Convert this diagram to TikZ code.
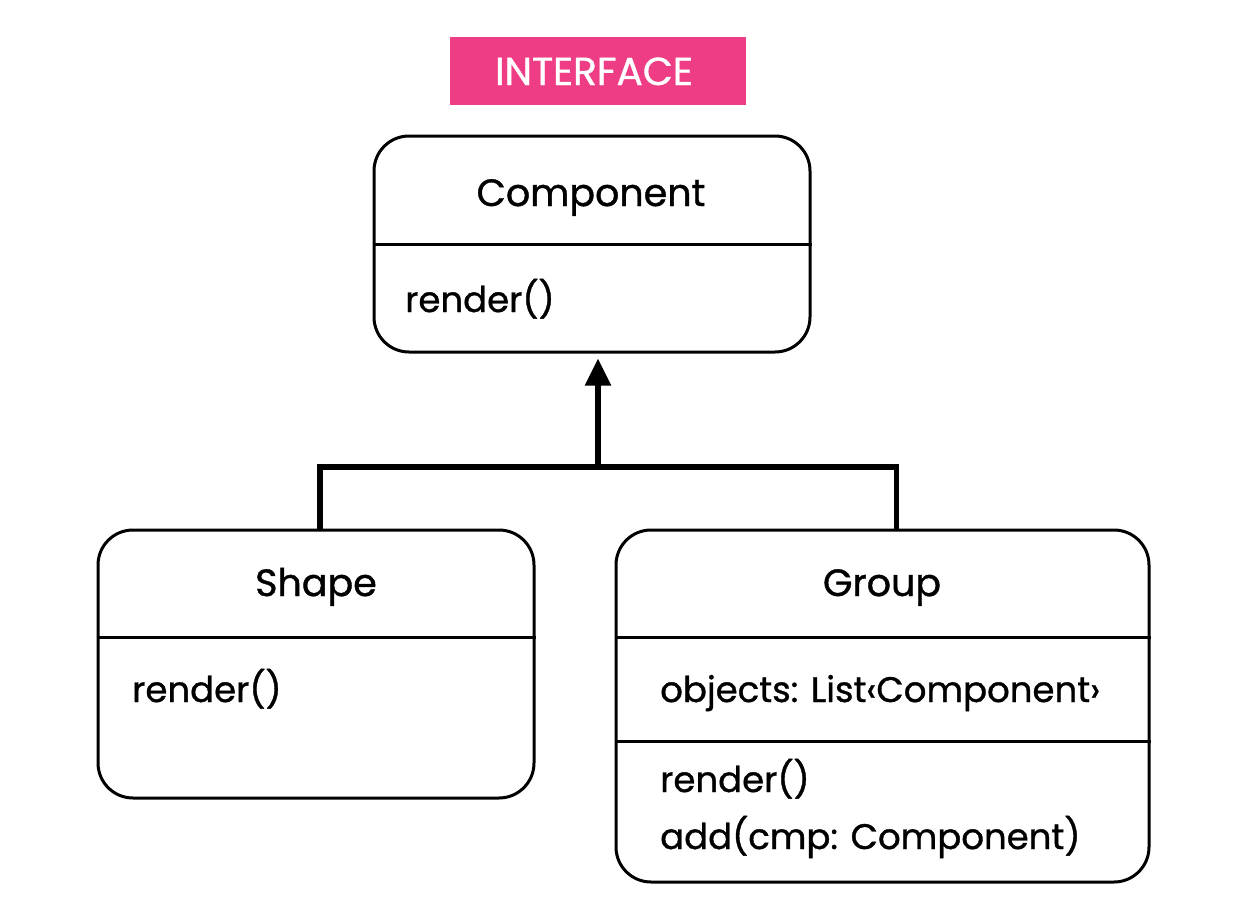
\documentclass[tikz,border=0pt]{standalone}
\usepackage{fontspec}
\setmainfont{Poppins}[FakeBold=1]
\usepackage{xcolor}
\usetikzlibrary{arrows.meta, positioning}

\definecolor{tagpink}{HTML}{EE3D84}

\begin{document}
\begin{tikzpicture}[
  x=1pt, y=-1pt,
  cls/.style    = {rectangle, draw=black, rounded corners=35pt,
                   line width=3pt, fill=white, inner sep=0pt},
  title/.style  = {font=\fontsize{38}{44}\selectfont, anchor=base},
  member/.style = {font=\fontsize{35.5}{42}\selectfont, anchor=base west,
                   inner sep=0pt},
  tag/.style    = {rectangle, fill=tagpink, text=white,
                   minimum width=296pt, minimum height=68pt,
                   font=\fontsize{39}{44}\selectfont},
  sep/.style    = {line width=3pt},
  conn/.style   = {line width=5.5pt},
  arr/.style    = {-{Triangle[width=25pt,length=27pt]}, line width=5.5pt}
]
\useasboundingbox (0,0) rectangle (1245,921);

% ===================== TOP: INTERFACE =====================
\node[tag] (tagiface) at (598,71) {};
\node[font=\fontsize{39}{44}\selectfont, text=white, anchor=base]
  (taglbl) at (594,85) {INTERFACE};

\node[cls, minimum width=436pt, minimum height=216pt]
  (comp) at (592,244) {};
\draw[sep] (comp.west |- 0,244) -- (comp.east |- 0,244);
\node[title] (compname) at (591,206) {Component};
\node[member] (compops) at (405,312) {render()};

% ===================== LEFT: SHAPE =====================
\node[cls, minimum width=436pt, minimum height=268pt]
  (shape) at (316,664) {};
\draw[sep] (shape.west |- 0,637) -- (shape.east |- 0,637);
\node[title] (shapename) at (316,596) {Shape};
\node[member] (shapeops) at (132,702) {render()};

% ===================== RIGHT: GROUP =====================
\node[cls, minimum width=533pt, minimum height=352pt]
  (group) at (882.5,706) {};
\draw[sep] (group.west |- 0,637) -- (group.east |- 0,637);
\draw[sep] (group.west |- 0,741) -- (group.east |- 0,741);
\node[title] (groupname) at (882,596) {Group};
\node[member] (groupattr) at (660,702) {objects: List‹Component›};
\node[member] (groupop1) at (660,792) {render()};
\node[member] (groupop2) at (660,849) {add(cmp: Component)};

% ===================== INHERITANCE =====================
\coordinate (join) at (598,467);
\draw[conn] ([xshift=4pt]shape.north) |- (join) -| ([xshift=14pt]group.north);
\draw[arr, shorten >=5pt] (join) -- ([xshift=6pt]comp.south);

\end{tikzpicture}
\end{document}
